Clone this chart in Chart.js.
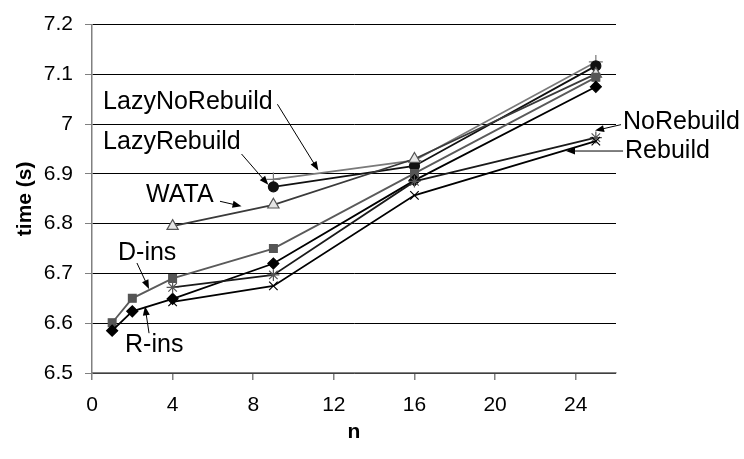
<!DOCTYPE html>
<html>
<head>
<meta charset="utf-8">
<script src="https://cdn.jsdelivr.net/npm/chart.js@4/dist/chart.umd.min.js"></script>
<style>
  html, body { margin: 0; padding: 0; background: #fff; }
  #wrap { width: 744px; height: 459px; position: relative; }
</style>
</head>
<body>
<div id="wrap"><canvas id="c" width="744" height="459"></canvas></div>
<script>
// n values for each group of runs
const nIns = [1, 2, 4, 9, 16, 25];
const nFrom4 = [4, 9, 16, 25];
const nLazy = [9, 16, 25];

// measured times (s)
const lazyNoRebuild = [6.889, 6.927, 7.125];
const lazyRebuild   = [6.874, 6.916, 7.117];
const wata          = [6.795, 6.838, 6.930, 7.101];
const dIns          = [6.601, 6.650, 6.690, 6.750, 6.901, 7.094];
const rIns          = [6.585, 6.624, 6.649, 6.720, 6.887, 7.075];
const noRebuild     = [6.672, 6.697, 6.885, 6.973];
const rebuild       = [6.643, 6.675, 6.857, 6.966];

const seriesNames = ['LazyNoRebuild', 'LazyRebuild', 'WATA', 'D-ins', 'R-ins', 'NoRebuild', 'Rebuild'];

const xTicks = [0, 4, 8, 12, 16, 20, 24];
const yTicks = [6.5, 6.6, 6.7, 6.8, 6.9, 7.0, 7.1, 7.2];

const pts = (xs, ys) => xs.map((x, i) => ({ x: x, y: ys[i] }));

const FONT = "'Liberation Sans', Arial, Helvetica, sans-serif";

// callout labels with arrows, placed in data units (n, time)
const callouts = [
  { text: 'LazyNoRebuild', at: [0.55, 7.045], from: [9.20, 7.040], to: [11.23, 6.907] },
  { text: 'LazyRebuild',   at: [0.55, 6.964], from: [7.42, 6.940], to: [8.75, 6.878] },
  { text: 'WATA',          at: [2.68, 6.858], from: [6.35, 6.845], to: [7.42, 6.835] },
  { text: 'D-ins',         at: [1.29, 6.740], from: [2.23, 6.721], to: [2.83, 6.669] },
  { text: 'R-ins',         at: [1.64, 6.557], from: [2.83, 6.580], to: [2.63, 6.634] },
  { text: 'NoRebuild',     at: [26.35, 7.005], from: [26.25, 6.999], to: [24.96, 6.987] },
  { text: 'Rebuild',       at: [26.45, 6.946], from: [26.35, 6.946], to: [23.52, 6.946] }
];

const calloutPlugin = {
  id: 'callouts',
  afterDatasetsDraw(chart) {
    const ctx = chart.ctx;
    const xs = chart.scales.x, ys = chart.scales.y;
    ctx.save();
    ctx.font = '25px ' + FONT;
    ctx.fillStyle = '#000';
    ctx.strokeStyle = '#000';
    ctx.textBaseline = 'middle';
    ctx.textAlign = 'left';
    callouts.forEach(c => {
      ctx.fillText(c.text, xs.getPixelForValue(c.at[0]), ys.getPixelForValue(c.at[1]));
      const x1 = xs.getPixelForValue(c.from[0]), y1 = ys.getPixelForValue(c.from[1]);
      const x2 = xs.getPixelForValue(c.to[0]),   y2 = ys.getPixelForValue(c.to[1]);
      const ang = Math.atan2(y2 - y1, x2 - x1);
      const L = 9, W = 3.5;
      ctx.lineWidth = 1;
      ctx.beginPath();
      ctx.moveTo(x1, y1);
      ctx.lineTo(x2 - Math.cos(ang) * L * 0.8, y2 - Math.sin(ang) * L * 0.8);
      ctx.stroke();
      ctx.beginPath();
      ctx.moveTo(x2, y2);
      ctx.lineTo(x2 - Math.cos(ang) * L - Math.sin(ang) * W, y2 - Math.sin(ang) * L + Math.cos(ang) * W);
      ctx.lineTo(x2 - Math.cos(ang) * L + Math.sin(ang) * W, y2 - Math.sin(ang) * L - Math.cos(ang) * W);
      ctx.closePath();
      ctx.fill();
    });
    ctx.restore();
  }
};

const mk = (label, data, line, style, fill, stroke, radius) => ({
  label: label,
  data: data,
  borderColor: line,
  borderWidth: 1.8,
  pointStyle: style,
  pointRadius: radius,
  pointBackgroundColor: fill,
  pointBorderColor: stroke,
  pointBorderWidth: 1.2,
  showLine: true,
  fill: false,
  tension: 0
});

const datasets = [
  mk(seriesNames[6], pts(nFrom4, rebuild),       '#000000', 'crossRot', '#000', '#000', 6),
  mk(seriesNames[5], pts(nFrom4, noRebuild),     '#1a1a1a', 'star',     '#666', '#555', 6),
  mk(seriesNames[4], pts(nIns, rIns),            '#000000', 'rectRot',  '#000', '#000', 5.5),
  mk(seriesNames[3], pts(nIns, dIns),            '#5a5a5a', 'rect',     '#555', '#555', 5.5),
  mk(seriesNames[2], pts(nFrom4, wata),          '#3a3a3a', 'triangle', '#e6e6e6', '#555', 6.5),
  mk(seriesNames[1], pts(nLazy, lazyRebuild),    '#111111', 'circle',   '#111', '#111', 5),
  mk(seriesNames[0], pts(nLazy, lazyNoRebuild),  '#7a7a7a', 'cross',    '#777', '#777', 7)
];

new Chart(document.getElementById('c'), {
  type: 'scatter',
  data: { datasets: datasets },
  options: {
    responsive: false,
    animation: false,
    devicePixelRatio: 1,
    layout: { padding: { top: 18, right: 128, left: 0, bottom: 14 } },
    plugins: { legend: { display: false }, tooltip: { enabled: false } },
    scales: {
      x: {
        type: 'linear',
        min: 0, max: 26,
        afterFit(s) { s.height = 72; },
        afterBuildTicks(s) { s.ticks = xTicks.map(v => ({ value: v })); },
        border: { color: '#808080', width: 1.5 },
        grid: { drawOnChartArea: false, drawTicks: true, tickLength: 7, tickColor: '#808080', lineWidth: 1.5 },
        ticks: { color: '#000', font: { family: FONT, size: 21 }, padding: 13, maxRotation: 0 },
        title: { display: true, text: 'n', color: '#000', font: { family: FONT, size: 21, weight: 'bold' }, padding: { top: 4, bottom: 0 } }
      },
      y: {
        type: 'linear',
        min: 6.5, max: 7.2,
        afterFit(s) { s.width = 92; },
        afterBuildTicks(s) { s.ticks = yTicks.map(v => ({ value: v })); },
        border: { color: '#808080', width: 1.5 },
        grid: { color: '#000', lineWidth: 1, tickLength: 7, tickColor: '#808080' },
        ticks: {
          color: '#000', font: { family: FONT, size: 21 }, padding: 12,
          callback: v => String(Number(v.toFixed(1)))
        },
        title: { display: true, text: 'time (s)', color: '#000', font: { family: FONT, size: 21, weight: 'bold' }, padding: { top: 13, bottom: 0 } }
      }
    }
  },
  plugins: [calloutPlugin]
});
</script>
</body>
</html>
